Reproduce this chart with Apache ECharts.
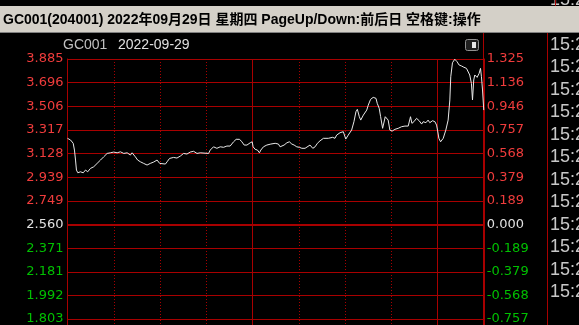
<!DOCTYPE html>
<html>
<head>
<meta charset="utf-8">
<script src="https://cdn.jsdelivr.net/npm/echarts@6/dist/echarts.min.js"></script>
<style>
html,body{margin:0;padding:0;background:#000;}
#chart{width:579px;height:325px;}
</style>
</head>
<body>
<div id="chart"></div>
<script>
// ---- data ----
var titleText = 'GC001(204001) 2022年09月29日 星期四 PageUp/Down:前后日 空格键:操作';
var symbolName = 'GC001';
var tradeDate = '2022-09-29';
var prevClose = 2.560;
// price tick labels (bottom -> top)
var priceLabels = ['1.235','1.424','1.614','1.803','1.992','2.181','2.371','2.560','2.749','2.939','3.128','3.317','3.506','3.696','3.885'];
var changeLabels = ['-1.325','-1.136','-0.946','-0.757','-0.568','-0.379','-0.189','0.000','0.189','0.379','0.568','0.757','0.946','1.136','1.325'];
var sideTimes = ['15:29','15:29','15:29','15:29','15:29','15:29','15:29','15:29','15:29','15:29','15:29','15:29','15:29','15:29'];
// trading session length in minutes, half-hour grid, session break every 120 min (11:30/13:00 and 15:00)
var sessionMinutes = 270, gridStep = 30, breakStep = 120;
// minutes since 9:30 (trading minutes, 11:30/13:00 joined at 120)
var timeMinutes = [0,2,3.7,4.5,5.2,5.8,6.7,8.4,10.2,11.7,13.1,14.9,17.0,19.2,21.4,23.5,25.7,27.8,30.0,32.2,34.3,36.5,38.7,40.8,41.9,44.0,45.5,47.3,49.4,51.6,53.7,55.9,58.1,59.8,60.9,63.5,64.6,66.2,68.8,71.0,73.2,75.3,77.5,79.6,81.8,84.0,86.1,91.5,92.6,94.7,96.9,99.1,101.2,103.4,105.5,106.6,107.7,109.4,111.6,113.1,114.6,116.4,118.5,119.8,120.4,121.7,123.2,124.5,125.4,127.1,129.3,131.9,134.7,136.8,137.9,139.0,140.5,142.3,143.9,145.5,147.0,148.7,150.4,152.0,154.1,155.2,157.3,159.1,160.6,162.1,163.8,166.0,169.2,172.0,173.5,174.6,176.8,178.9,180.5,182.1,184.3,185.8,187.1,188.0,189.3,190.2,191.9,194.1,195.1,196.6,198.3,200.1,200.9,202.2,203.1,204.4,205.5,206.1,207.0,208.0,209.1,210.6,212.4,214.5,216.7,218.9,221.0,222.5,223.4,224.7,226.4,228.1,229.7,230.7,232.5,233.9,235.0,236.8,238.3,239.4,240.0,240.9,242.0,243.7,245.4,246.9,248.0,248.6,249.7,251.2,252.7,254.0,255.6,257.1,258.8,259.8,260.9,262.0,262.7,263.5,264.2,265.7,267.0,267.9,268.5,269.2,270.0];
var priceValues = [3.250,3.236,3.210,3.156,3.076,2.996,2.974,2.982,2.974,2.996,2.982,3.009,3.022,3.049,3.076,3.102,3.129,3.134,3.140,3.134,3.142,3.129,3.134,3.116,3.134,3.102,3.076,3.062,3.049,3.036,3.049,3.060,3.076,3.049,3.036,3.044,3.062,3.089,3.097,3.092,3.108,3.129,3.124,3.140,3.146,3.129,3.134,3.129,3.156,3.182,3.170,3.182,3.178,3.188,3.188,3.196,3.222,3.242,3.242,3.222,3.196,3.196,3.214,3.222,3.182,3.162,3.156,3.134,3.156,3.182,3.196,3.204,3.210,3.204,3.182,3.170,3.196,3.214,3.222,3.204,3.196,3.182,3.178,3.170,3.170,3.178,3.196,3.170,3.182,3.210,3.230,3.250,3.250,3.258,3.250,3.276,3.295,3.303,3.244,3.276,3.316,3.383,3.463,3.482,3.423,3.396,3.436,3.476,3.516,3.562,3.578,3.570,3.530,3.490,3.423,3.330,3.343,3.423,3.436,3.396,3.316,3.308,3.322,3.330,3.343,3.348,3.348,3.423,3.370,3.383,3.410,3.391,3.364,3.383,3.375,3.396,3.375,3.391,3.383,3.356,3.316,3.250,3.222,3.250,3.316,3.396,3.557,3.743,3.855,3.883,3.863,3.837,3.829,3.819,3.810,3.797,3.757,3.690,3.557,3.717,3.757,3.738,3.770,3.810,3.743,3.637,3.476];

// ---- chart ----
var RED = '#a80000';
var UP = '#f03c3c', DOWN = '#00c000', FLAT = '#e0e0e0';
var FONT = "'DejaVu Sans', 'Liberation Sans', Arial, sans-serif";
var seriesData = timeMinutes.map(function (m, i) { return [m, priceValues[i]]; });
var midIdx = priceLabels.indexOf(prevClose.toFixed(3));
function labelColor(v, idx) { return idx > midIdx ? UP : (idx < midIdx ? DOWN : FLAT); }

var graphics = [];
sideTimes.forEach(function (t, i) {
  graphics.push({ type: 'text', x: 550, y: 0 + i * 22.5, z: 1,
    style: { text: t, fill: '#c8c8c8', font: "18px 'Liberation Sans', Arial, sans-serif", verticalAlign: 'middle' } });
});
graphics.push(
  { type: 'rect', shape: { x: 0, y: 6, width: 579, height: 26.5 }, style: { fill: '#d4d0c8' }, z: 5 },
  { type: 'line', shape: { x1: 0, y1: 32.5, x2: 579, y2: 32.5 }, style: { stroke: '#808080', lineWidth: 1 }, z: 5 },
  { type: 'text', x: 3, y: 20, z: 6, style: { text: titleText, fill: '#000', font: "bold 14px 'Liberation Sans', 'Noto Sans CJK SC', sans-serif", verticalAlign: 'middle' } },
  { type: 'line', shape: { x1: 555.5, y1: 0, x2: 555.5, y2: 6 }, style: { stroke: RED, lineWidth: 1 }, z: 4 },
  { type: 'text', x: 63, y: 45, style: { text: symbolName, fill: '#c0c0c0', font: "14px 'Liberation Sans', Arial, sans-serif", verticalAlign: 'middle' } },
  { type: 'text', x: 118, y: 45, style: { text: tradeDate, fill: '#e0e0e0', font: "14px 'Liberation Sans', Arial, sans-serif", verticalAlign: 'middle' } },
  { type: 'rect', shape: { x: 465.5, y: 39.5, width: 13, height: 11, r: 2 }, style: { fill: '#202020', stroke: '#909090', lineWidth: 1 } },
  { type: 'rect', shape: { x: 472, y: 42, width: 4, height: 6 }, style: { fill: '#e8e8e8' } },
  { type: 'line', shape: { x1: 483.5, y1: 33, x2: 483.5, y2: 325 }, style: { stroke: RED, lineWidth: 1 }, z: 3 },
  { type: 'line', shape: { x1: 547.5, y1: 33, x2: 547.5, y2: 325 }, style: { stroke: RED, lineWidth: 1 }, z: 3 }
);

var chart = echarts.init(document.getElementById('chart'), null, { renderer: 'canvas' });
chart.setOption({
  backgroundColor: '#000',
  animation: false,
  grid: { left: 67.5, width: 416.25, top: 59, height: 331, containLabel: false, outerBoundsMode: 'none' },
  xAxis: [
    {
      type: 'value', min: 0, max: sessionMinutes, interval: gridStep,
      axisLine: { show: false }, axisTick: { show: false }, axisLabel: { show: false },
      splitLine: { show: true, lineStyle: { color: RED, type: [1, 2], width: 1 } }
    },
    {
      type: 'value', min: 0, max: sessionMinutes, interval: breakStep, position: 'bottom',
      axisLine: { show: false }, axisTick: { show: false }, axisLabel: { show: false },
      splitLine: { show: true, lineStyle: { color: RED, type: 'solid', width: 1 } }
    }
  ],
  yAxis: [
    { type: 'value', min: 1.235, max: 3.885, show: false, splitLine: { show: false } },
    {
      type: 'category', position: 'left', data: priceLabels, boundaryGap: false,
      axisLine: { show: true, lineStyle: { color: RED, width: 1 } },
      axisTick: { show: false },
      axisLabel: { interval: 0, margin: 4, fontSize: 13, fontFamily: FONT, color: labelColor },
      splitLine: { show: true, interval: 0, lineStyle: { color: RED, width: 1 } }
    },
    {
      type: 'category', position: 'right', data: changeLabels, boundaryGap: false,
      axisLine: { show: true, lineStyle: { color: RED, width: 1 } },
      axisTick: { show: false },
      axisLabel: { interval: 0, margin: 3, fontSize: 13, fontFamily: FONT, color: labelColor },
      splitLine: { show: false }
    }
  ],
  series: [
    {
      type: 'line', xAxisIndex: 0, yAxisIndex: 0, data: seriesData, showSymbol: false, symbol: 'none',
      lineStyle: { color: '#e8e8e8', width: 1 }, itemStyle: { color: '#e8e8e8' }, z: 3,
      markLine: {
        silent: true, symbol: ['none', 'none'], label: { show: false }, animation: false,
        lineStyle: { color: RED, width: 2, type: 'solid' },
        data: [{ yAxis: prevClose }]
      }
    }
  ],
  graphic: graphics
});
</script>
</body>
</html>
